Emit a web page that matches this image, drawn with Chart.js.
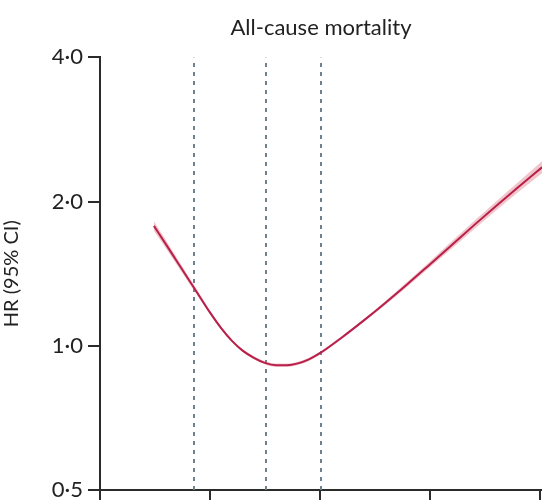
<!DOCTYPE html>
<html>
<head>
<meta charset="utf-8">
<script src="https://cdn.jsdelivr.net/npm/chart.js@4.4.1/dist/chart.umd.min.js"></script>
<style>
  html, body { margin: 0; padding: 0; background: #fff; }
  #wrap { width: 542px; height: 500px; }
</style>
</head>
<body>
<div id="wrap"><canvas id="hrChart"></canvas></div>
<script>
const TITLE = 'All-cause mortality';
const Y_LABEL = 'HR (95% CI)';

// exposure (x, in tick units) and hazard ratio
const xVals = [0.49, 0.6, 0.7, 0.8, 0.9, 1.0, 1.1, 1.2, 1.3, 1.4, 1.5, 1.6, 1.7, 1.8, 1.9, 2.0, 2.2, 2.4, 2.6, 2.8, 3.0, 3.2, 3.4, 3.6, 3.8, 4.02];
const hr    = [1.78, 1.628, 1.50, 1.382, 1.274, 1.174, 1.09, 1.024, 0.976, 0.944, 0.921, 0.911, 0.911, 0.919, 0.937, 0.965, 1.041, 1.130, 1.232, 1.348, 1.479, 1.624, 1.784, 1.956, 2.140, 2.358];
const ciLow = [1.738, 1.597, 1.475, 1.362, 1.259, 1.163, 1.082, 1.017, 0.969, 0.937, 0.914, 0.904, 0.904, 0.912, 0.930, 0.958, 1.034, 1.122, 1.220, 1.332, 1.458, 1.597, 1.750, 1.914, 2.089, 2.291];
const ciHigh= [1.823, 1.660, 1.525, 1.402, 1.289, 1.185, 1.098, 1.031, 0.983, 0.951, 0.928, 0.918, 0.918, 0.926, 0.944, 0.972, 1.048, 1.138, 1.244, 1.364, 1.500, 1.652, 1.819, 1.999, 2.192, 2.427];

const refLines = [0.855, 1.51, 2.01];
const xTicks = [0, 1, 2, 3, 4];
const yTicks = [0.5, 1, 2, 4];

const AXIS = '#2b2b2b';
const LINE = '#b81f4b';
const BAND = 'rgba(225,128,140,0.45)';
const DASH = '#6f818c';

const pts = arr => arr.map((y, i) => ({ x: xVals[i], y }));

const datasets = [
  { data: pts(hr), borderColor: LINE, borderWidth: 2, pointRadius: 0, cubicInterpolationMode: 'monotone', fill: false },
  { data: pts(ciLow), borderColor: 'rgba(0,0,0,0)', borderWidth: 0, pointRadius: 0, cubicInterpolationMode: 'monotone', fill: false },
  { data: pts(ciHigh), borderColor: 'rgba(0,0,0,0)', borderWidth: 0, pointRadius: 0, cubicInterpolationMode: 'monotone', fill: '-1', backgroundColor: BAND },
  ...refLines.map(x => ({
    data: [{ x, y: 0.5 }, { x, y: 4 }], borderColor: DASH, borderWidth: 2, borderDash: [4, 5], pointRadius: 0, fill: false,
  })),
];

new Chart(document.getElementById('hrChart'), {
  type: 'line',
  data: { datasets },
  options: {
    responsive: true, maintainAspectRatio: false, animation: false,
    layout: { padding: 0 },
    plugins: {
      legend: { display: false }, tooltip: { enabled: false },
      title: {
        display: true, text: TITLE, fullSize: false, color: '#222',
        font: { family: 'Lato', size: 22, weight: 'normal' },
        padding: { top: 15, bottom: 16 },
      },
    },
    scales: {
      x: {
        type: 'linear', min: 0, max: 4.02,
        afterBuildTicks: s => { s.ticks = xTicks.map(v => ({ value: v })); },
        afterFit: s => { s.height = 10; },
        ticks: { display: false },
        grid: { drawOnChartArea: false, drawTicks: true, tickLength: 12, color: AXIS, lineWidth: 2 },
        border: { display: true, color: AXIS, width: 2 },
      },
      y: {
        type: 'logarithmic', min: 0.5, max: 4,
        afterBuildTicks: s => { s.ticks = yTicks.map(v => ({ value: v })); },
        // let the bottom label run off the canvas like in the original
        afterFit: s => { s.width = 100; s.paddingBottom = 0; s.paddingTop = 0; },
        ticks: {
          color: '#222', padding: 5,
          font: { family: 'Lato', size: 22 },
          callback: v => Number(v).toFixed(1).replace('.', '·'),
        },
        title: { display: true, text: Y_LABEL, color: '#222', font: { family: 'Lato', size: 20 }, padding: { top: 0, bottom: 4 } },
        grid: { drawOnChartArea: false, drawTicks: true, tickLength: 12, color: AXIS, lineWidth: 2 },
        border: { display: true, color: AXIS, width: 2 },
      },
    },
  },
});
</script>
</body>
</html>
